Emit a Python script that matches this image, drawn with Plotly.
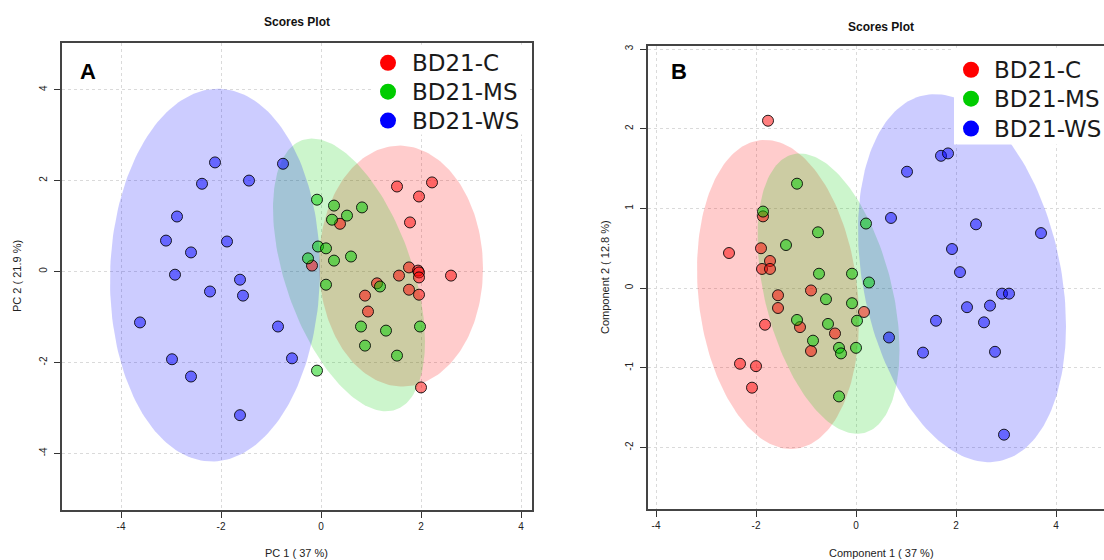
import numpy as np
import plotly.graph_objects as go

W, H = 1104, 560
groups = ["BD21-C", "BD21-MS", "BD21-WS"]
pt_colors = ["rgba(255,0,0,0.5)", "rgba(0,205,0,0.5)", "rgba(0,0,255,0.5)"]
ell_colors = ["rgba(255,0,0,0.2)", "rgba(0,205,0,0.2)", "rgba(0,0,255,0.2)"]
legend_colors = ["#ff0000", "#00cc00", "#0000ff"]

# ---- Panel A (PCA) ----
a_c_x = [1.52, 2.22, 1.96, 1.78, 0.38, -0.18, 1.76, 1.94, 1.96, 1.96, 1.56, 2.60, 1.12, 0.88, 1.76, 1.96, 0.94, 2.00]
a_c_y = [1.87, 1.96, 1.65, 1.08, 1.05, 0.13, 0.09, 0.02, -0.02, -0.13, -0.09, -0.09, -0.26, -0.53, -0.40, -0.51, -0.88, -2.55]
a_ms_x = [-0.08, 0.26, 0.82, 0.52, 0.22, -0.06, 0.10, -0.26, 0.26, 0.60, 0.10, 1.18, 0.80, 1.30, 1.98, 0.88, 1.52, -0.08]
a_ms_y = [1.58, 1.45, 1.41, 1.23, 1.14, 0.55, 0.51, 0.29, 0.24, 0.33, -0.29, -0.33, -1.21, -1.30, -1.21, -1.63, -1.85, -2.18]
a_ws_x = [-2.12, -0.76, -1.44, -2.38, -2.88, -3.10, -1.88, -2.60, -2.92, -1.62, -2.22, -1.56, -3.62, -0.86, -2.98, -2.60, -0.58, -1.62]
a_ws_y = [2.40, 2.37, 2.00, 1.93, 1.21, 0.68, 0.66, 0.42, -0.07, -0.18, -0.44, -0.53, -1.12, -1.21, -1.93, -2.31, -1.91, -3.16]

# ellipse parameters: centre, half x-extent, half y-extent, x offset of top point
a_ell_cx = [1.60, 0.56, -2.12]
a_ell_cy = [0.12, -0.075, -0.08]
a_ell_rx = [1.64, 1.52, 2.10]
a_ell_ry = [2.65, 3.00, 4.10]
a_ell_topdx = [-0.03, -0.74, 0.06]

# ---- Panel B (PLS-DA) ----
b_c_x = [-1.76, -1.86, -1.90, -2.54, -1.72, -1.88, -1.72, -0.90, -1.56, -1.56, 0.16, -1.12, -1.82, -0.42, -0.90, -2.32, -2.00, -2.08]
b_c_y = [2.10, 0.90, 0.50, 0.44, 0.34, 0.24, 0.24, -0.03, -0.09, -0.25, -0.30, -0.49, -0.46, -0.57, -0.79, -0.95, -0.98, -1.25]
b_ms_x = [-1.18, -1.86, 0.20, -0.76, -1.40, -0.74, -0.08, 0.26, -0.60, -0.08, 0.02, -1.18, -0.56, -0.86, -0.34, -0.30, 0.00, -0.34]
b_ms_y = [1.31, 0.96, 0.81, 0.70, 0.54, 0.18, 0.18, 0.07, -0.14, -0.19, -0.41, -0.40, -0.45, -0.66, -0.75, -0.82, -0.75, -1.36]
b_ws_x = [1.70, 1.84, 1.02, 0.70, 2.40, 3.70, 1.92, 2.08, 2.92, 3.06, 2.68, 2.22, 1.60, 2.56, 0.66, 1.34, 2.78, 2.96]
b_ws_y = [1.66, 1.69, 1.46, 0.88, 0.80, 0.69, 0.49, 0.20, -0.07, -0.07, -0.22, -0.24, -0.41, -0.43, -0.62, -0.81, -0.80, -1.84]

b_ell_cx = [-1.56, -0.55, 2.12]
b_ell_cy = [-0.08, -0.07, 0.125]
b_ell_rx = [1.62, 1.42, 2.08]
b_ell_ry = [1.94, 1.76, 2.31]
b_ell_topdx = [-0.26, -0.57, -0.54]

ticks_x = [-4, -2, 0, 2, 4]
ticks_ya = [-4, -2, 0, 2, 4]
ticks_yb = [-2, -1, 0, 1, 2, 3]


def ellipse(cx, cy, rx, ry, topdx, n=200):
    sxy = topdx * ry
    t = np.linspace(0, 2 * np.pi, n)
    k = sxy / rx
    x = cx + rx * np.cos(t)
    y = cy + k * np.cos(t) + np.sqrt(max(ry ** 2 - k ** 2, 1e-9)) * np.sin(t)
    return x, y


fig = go.Figure()

panels = [
    ("x", "y", [a_c_x, a_ms_x, a_ws_x], [a_c_y, a_ms_y, a_ws_y],
     (a_ell_cx, a_ell_cy, a_ell_rx, a_ell_ry, a_ell_topdx)),
    ("x2", "y2", [b_c_x, b_ms_x, b_ws_x], [b_c_y, b_ms_y, b_ws_y],
     (b_ell_cx, b_ell_cy, b_ell_rx, b_ell_ry, b_ell_topdx)),
]

for xa, ya, xs, ys, ep in panels:
    for i in range(3):
        ex, ey = ellipse(ep[0][i], ep[1][i], ep[2][i], ep[3][i], ep[4][i])
        fig.add_trace(go.Scatter(x=ex, y=ey, mode="lines", fill="toself",
                                 fillcolor=ell_colors[i], line=dict(width=0),
                                 xaxis=xa, yaxis=ya, showlegend=False, hoverinfo="skip"))
    for i in range(3):
        fig.add_trace(go.Scatter(x=xs[i], y=ys[i], mode="markers", name=groups[i],
                                 marker=dict(size=11, color=pt_colors[i],
                                             line=dict(color="rgba(0,0,0,0.85)", width=1)),
                                 xaxis=xa, yaxis=ya, showlegend=False, cliponaxis=False))


def px_x(p):
    return p / W


def px_y(p):
    return 1 - p / H


tickfont = dict(family="Liberation Sans, Arial, sans-serif", size=10, color="#222")
common = dict(showgrid=True, gridcolor="#dadada", griddash="dot", gridwidth=1,
              zeroline=False, ticks="outside", ticklen=6, tickcolor="#333",
              showline=True, linecolor="#444", linewidth=1.5, tickfont=tickfont)

fig.update_layout(
    width=W, height=H, margin=dict(l=0, r=0, t=0, b=0),
    paper_bgcolor="white", plot_bgcolor="white", showlegend=False,
    xaxis=dict(domain=[px_x(62), px_x(532)], range=[-5.18, 4.22], anchor="y",
               tickvals=ticks_x, ticktext=[str(v) for v in ticks_x],
               mirror=True, **common),
    yaxis=dict(domain=[px_y(510), px_y(41)], range=[-5.25, 5.03], anchor="x",
               tickvals=ticks_ya, ticktext=[str(v) for v in ticks_ya], tickangle=-90,
               ticklabelstandoff=3, mirror=True, **common),
    xaxis2=dict(domain=[px_x(648), 1.0], range=[-4.16, 4.96], anchor="y2",
                tickvals=ticks_x, ticktext=[str(v) for v in ticks_x],
                mirror=True, **common),
    yaxis2=dict(domain=[px_y(509), px_y(44)], range=[-2.775, 3.04], anchor="x2",
                tickvals=ticks_yb, ticktext=[str(v) for v in ticks_yb], tickangle=-90,
                ticklabelstandoff=3, mirror=False, **common),
)

shapes = []
# white legend boxes
shapes.append(dict(type="rect", xref="paper", yref="paper", x0=px_x(372), x1=px_x(530),
                   y0=px_y(133), y1=px_y(43), fillcolor="white", line=dict(width=0), layer="above"))
shapes.append(dict(type="rect", xref="paper", yref="paper", x0=px_x(954), x1=1.0,
                   y0=px_y(143), y1=px_y(46), fillcolor="white", line=dict(width=0), layer="above"))

annotations = []
lab_font = dict(family="DejaVu Sans, sans-serif", size=23, color="#1a1a1a")
for (cxp, txp, ys_) in [(388, 410, [61, 90, 119]), (971, 992, [68, 97, 127])]:
    for i, yy in enumerate(ys_):
        shapes.append(dict(type="circle", xref="paper", yref="paper",
                           xsizemode="pixel", ysizemode="pixel",
                           xanchor=px_x(cxp), yanchor=px_y(yy),
                           x0=-8, x1=8, y0=-8, y1=8,
                           fillcolor=legend_colors[i], line=dict(width=0), layer="above"))
        annotations.append(dict(text=groups[i], xref="paper", yref="paper",
                                x=px_x(txp), y=px_y(yy), xanchor="left", yanchor="middle",
                                showarrow=False, font=lab_font))

title_font = dict(family="Liberation Sans, Arial, sans-serif", size=12, color="#111")
axis_font = dict(family="Liberation Sans, Arial, sans-serif", size=11, color="#222")
panel_font = dict(family="Liberation Sans, Arial, sans-serif", size=22, color="black")


def ann(text, x, y, font, angle=0):
    annotations.append(dict(text=text, xref="paper", yref="paper", x=px_x(x), y=px_y(y),
                            xanchor="center", yanchor="middle", showarrow=False,
                            font=font, textangle=angle))


ann("<b>Scores Plot</b>", 297, 20, title_font)
ann("<b>Scores Plot</b>", 881, 25, title_font)
ann("<b>A</b>", 88, 70, panel_font)
ann("<b>B</b>", 679, 70, panel_font)
ann("PC 1 ( 37 %)", 297, 553, axis_font)
ann("Component 1 ( 37 %)", 881, 553, axis_font)
ann("PC 2 ( 21.9 %)", 17, 275, axis_font, -90)
ann("Component 2 ( 12.8 %)", 605, 276, axis_font, -90)

fig.update_layout(shapes=shapes, annotations=annotations)
fig.write_html("out.html")
